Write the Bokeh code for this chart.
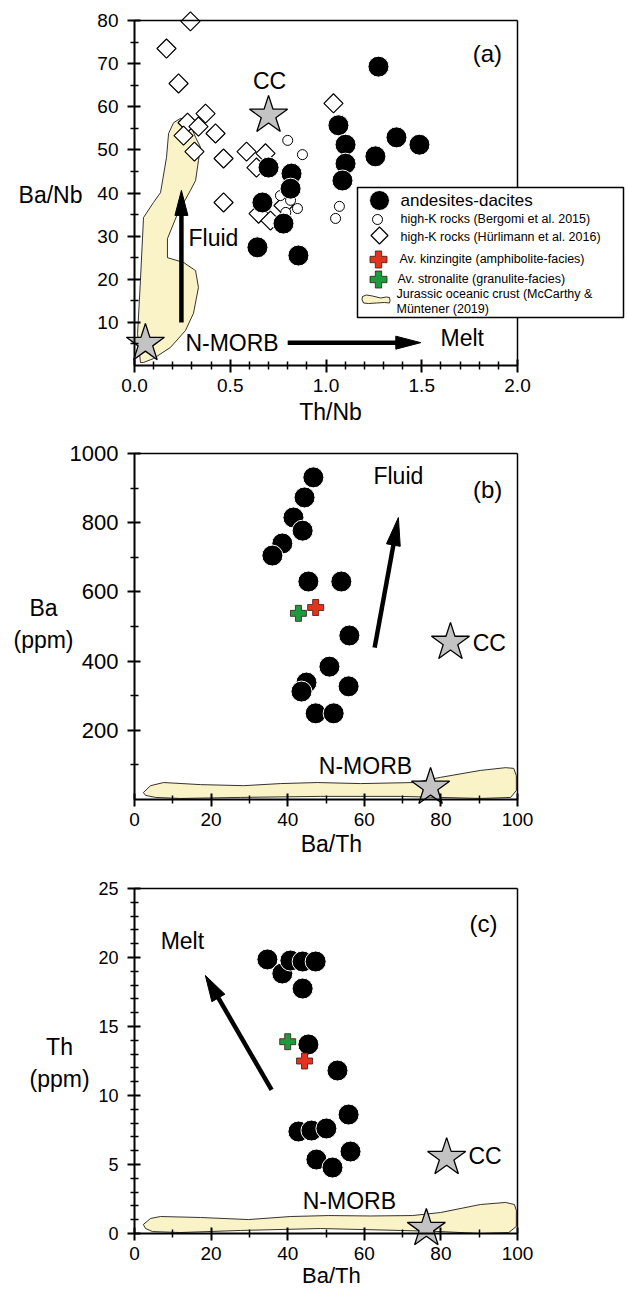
import math
from bokeh.plotting import figure
from bokeh.models import Range1d, FixedTicker, PrintfTickFormatter, Label
from bokeh.layouts import column
from bokeh.embed import file_html
from bokeh.resources import INLINE
from bokeh.core.properties import value

FONT = "Liberation Sans"

# ---------------- Panel (a): Ba/Nb vs Th/Nb ----------------
a_and_thnb = [0.70, 0.82, 0.815, 0.668, 0.778, 0.642, 0.856, 1.274, 1.065, 1.102, 1.102, 1.086, 1.258, 1.368, 1.488]
a_and_banb = [45.9, 44.5, 41.0, 37.8, 32.9, 27.4, 25.5, 69.3, 55.7, 51.2, 46.8, 42.9, 48.5, 52.9, 51.2]
a_berg_thnb = [0.80, 0.877, 0.762, 0.815, 0.851, 0.79, 1.07, 1.05]
a_berg_banb = [52.2, 48.9, 39.4, 38.3, 36.4, 35.5, 36.9, 34.1]
a_hurl_thnb = [0.292, 0.167, 0.230, 0.371, 0.277, 0.334, 0.256, 0.423, 0.313, 0.465, 0.585, 0.637, 0.684, 1.039, 0.465, 0.648, 0.710, 0.778]
a_hurl_banb = [79.8, 73.5, 65.4, 58.4, 56.3, 55.4, 53.3, 53.8, 49.6, 48.0, 49.6, 45.9, 49.2, 60.8, 37.8, 35.2, 33.6, 37.1]
a_star_x = [0.70, 0.057]
a_star_y = [58.0, 5.1]
a_blob_x = [0.031, 0.016, 0.031, 0.047, 0.099, 0.136, 0.167, 0.178, 0.204, 0.240, 0.282, 0.319, 0.345, 0.334,
            0.319, 0.292, 0.225, 0.172, 0.172, 0.256, 0.319, 0.334, 0.308, 0.266, 0.188, 0.099, 0.047]
a_blob_y = [0.7, 7.4, 19.7, 34.3, 37.8, 40.1, 48.2, 53.8, 56.3, 57.3, 56.8, 52.9, 50.6, 47.5,
            42.9, 40.6, 35.2, 29.4, 25.0, 23.9, 22.0, 18.1, 12.1, 8.1, 4.2, 1.6, 0.7]
a_xticks = [0.0, 0.5, 1.0, 1.5, 2.0]
a_yticks = [10, 20, 30, 40, 50, 60, 70, 80]

# ---------------- Panel (b): Ba vs Ba/Th ----------------
b_and_bath = [46.7, 44.4, 41.5, 43.9, 38.6, 36.0, 45.4, 54.0, 56.1, 50.9, 44.9, 43.6, 55.9, 47.3, 52.0]
b_and_ba = [931, 873, 815, 777, 740, 705, 630, 630, 474, 384, 338, 312, 327, 249, 249]
b_kinz = [47.3, 555]
b_stron = [42.8, 538]
b_star_x = [82.5, 77.3]
b_star_y = [454, 35]
b_blob_x = [2.3, 4.2, 7.6, 17.2, 28.5, 38.1, 47.8, 59.0, 73.1, 79.9, 90.3, 96.9, 99.0, 99.7, 99.7, 98.2,
            90.3, 69.5, 48.6, 27.7, 12.0, 5.5, 2.9]
b_blob_y = [20, 40, 49, 43, 40, 46, 49, 46, 49, 64, 84, 92, 90, 69, 26, 6, 3, 9, 9, 6, 3, 6, 12]
b_xticks = [0, 20, 40, 60, 80, 100]
b_yticks = [200, 400, 600, 800, 1000]

# ---------------- Panel (c): Th vs Ba/Th ----------------
c_and_bath = [34.7, 38.6, 40.7, 43.9, 47.3, 43.9, 45.4, 53.0, 55.9, 42.8, 46.2, 50.1, 56.4, 47.5, 51.7]
c_and_th = [19.86, 18.84, 19.78, 19.71, 19.71, 17.75, 13.70, 11.81, 8.62, 7.39, 7.46, 7.61, 5.94, 5.36, 4.78]
c_kinz = [44.4, 12.5]
c_stron = [40.0, 13.9]
c_star_x = [81.5, 76.2]
c_star_y = [5.5, 0.36]
c_blob_x = [2.3, 4.2, 6.8, 17.2, 29.8, 40.7, 50.7, 61.6, 72.6, 79.9, 90.3, 96.9, 99.2, 99.7, 99.7, 97.7,
            90.3, 79.9, 69.5, 48.6, 27.7, 12.0, 4.7, 2.9]
c_blob_y = [0.65, 1.09, 1.23, 1.16, 1.01, 1.23, 1.30, 1.27, 1.30, 1.52, 2.10, 2.25, 2.10, 1.67, 0.51, 0.07,
            0.0, 0.14, 0.22, 0.36, 0.22, 0.07, 0.14, 0.36]
c_xticks = [0, 20, 40, 60, 80, 100]
c_yticks = [0, 5, 10, 15, 20, 25]

# ---------------- styles ----------------
BLOB_FILL = "#fbf3c8"
STAR_FILL = "#c3c3c3"
RED = "#e5321f"
GREEN = "#1e9a3e"

WIDTH = 626      # canvas width
BOX_LEFT = 134   # pixel position of the left edge of each box inside the canvas


def make_panel(box, scale, height, box_top):
    """Frame covers the whole canvas; the data box is placed inside it."""
    x0, x1, y0, y1 = box
    sx, sy = scale
    box_h = (y1 - y0) * sy
    bottom_pad = height - box_top - box_h
    p = figure(width=WIDTH, height=height, output_backend="svg", toolbar_location=None,
               x_range=Range1d(x0 - BOX_LEFT / sx, x0 + (WIDTH - BOX_LEFT) / sx),
               y_range=Range1d(y0 - bottom_pad / sy, y1 + box_top / sy),
               min_border=0, min_border_left=0, min_border_right=0,
               min_border_top=0, min_border_bottom=0)
    p.grid.visible = False
    p.outline_line_color = None
    p.background_fill_color = "white"
    p.border_fill_color = "white"
    return p


def style_axes(p, box, xt, xm, yt, ym, xfs, yfs, xfmt=None):
    x0, x1, y0, y1 = box
    xa = p.xaxis[0]
    ya = p.yaxis[0]
    xa.fixed_location = y0
    ya.fixed_location = x0
    xa.bounds = (x0, x1)
    ya.bounds = (y0, y1)
    xa.ticker = FixedTicker(ticks=xt, minor_ticks=xm)
    ya.ticker = FixedTicker(ticks=yt, minor_ticks=ym)
    if xfmt:
        xa.formatter = PrintfTickFormatter(format=xfmt)
    for ax, fs in ((xa, xfs), (ya, yfs)):
        ax.axis_line_width = 2
        ax.axis_line_color = "black"
        ax.major_tick_line_width = 2
        ax.minor_tick_line_width = 1.5
        ax.major_tick_line_color = "black"
        ax.minor_tick_line_color = "black"
        ax.major_tick_in = 6
        ax.major_tick_out = 7
        ax.minor_tick_in = 4
        ax.minor_tick_out = 4
        ax.major_label_text_font = FONT
        ax.major_label_text_font_size = fs
        ax.major_label_text_color = "black"
    xa.major_label_standoff = 6
    ya.major_label_standoff = 9
    # top and right edges of the box
    p.segment(x0=[x0, x1], y0=[y1, y0], x1=[x1, x1], y1=[y1, y1], line_color="black", line_width=1.5)


def arrow(p, xs, ys, xe, ye, sx, sy, head_len, head_w, lw):
    dx = (xe - xs) * sx
    dy = (ye - ys) * sy
    L = math.hypot(dx, dy)
    ux, uy = dx / L, dy / L
    bx = xe - head_len * ux / sx
    by = ye - head_len * uy / sy
    p.line([xs, xe - 0.6 * head_len * ux / sx], [ys, ye - 0.6 * head_len * uy / sy],
           line_width=lw, line_color="black")
    nx, ny = -uy, ux
    p.patch([xe, bx + head_w / 2 * nx / sx, bx - head_w / 2 * nx / sx],
            [ye, by + head_w / 2 * ny / sy, by - head_w / 2 * ny / sy],
            fill_color="black", line_color="black", line_width=1)


def text(p, xs, ys, txt, size="23px", align="left"):
    p.text(x=xs, y=ys, text=txt, text_font=value(FONT), text_font_size=value(size),
           text_align=align, text_baseline="middle", text_color="black")


def label(p, x, y, txt, size="23px"):
    p.add_layout(Label(x=x, y=y, text=txt, text_font=FONT, text_font_size=size,
                       text_align="center", text_baseline="middle", text_color="black"))


def andesites(p, xs, ys, size=21):
    p.scatter(xs, ys, marker="circle", size=size, fill_color="black", line_color="white", line_width=1)


def stars(p, xs, ys):
    p.scatter(xs, ys, marker="star", size=40, fill_color=STAR_FILL, line_color="black", line_width=1.3)


def pluses(p, xs, ys, color, size=16):
    p.scatter(xs, ys, marker="plus", size=size, fill_color=color, line_color="#3a1a14", line_width=0.8)


# ====================== Panel (a) ======================
boxA = (0.0, 2.0, 0.0, 80.0)
sA = (191.5, 4.3125)
pa = make_panel(boxA, sA, 436, 20)
pa.patch(a_blob_x, a_blob_y, fill_color=BLOB_FILL, line_color="black", line_width=0.8)
arrow(pa, 0.245, 10.0, 0.245, 40.6, sA[0], sA[1], 25, 13, 4.5)
arrow(pa, 0.80, 5.3, 1.495, 5.3, sA[0], sA[1], 25, 13, 4.5)
pa.scatter(a_hurl_thnb, a_hurl_banb, marker="square", angle=math.pi / 4, size=13.5,
           fill_color="white", line_color="black", line_width=1.2)
pa.scatter(a_berg_thnb, a_berg_banb, marker="circle", size=10, fill_color="white",
           line_color="black", line_width=1)
andesites(pa, a_and_thnb, a_and_banb)
stars(pa, a_star_x, a_star_y)
style_axes(pa, boxA, a_xticks, [0.1, 0.2, 0.3, 0.4, 0.6, 0.7, 0.8, 0.9, 1.1, 1.2, 1.3, 1.4, 1.6, 1.7, 1.8, 1.9],
           a_yticks, [5, 15, 25, 35, 45, 55, 65, 75], "19px", "19px", "%.1f")
text(pa, [0.705], [65.86], ["CC"], align="center")
text(pa, [0.282], [29.68], ["Fluid"])
text(pa, [0.266], [5.33], ["N-MORB"])
text(pa, [1.598], [6.49], ["Melt"])
text(pa, [1.843], [72.46], ["(a)"], size="24px", align="center")
label(pa, -0.4386, 39.65, "Ba/Nb")
label(pa, 1.0235, -10.67, "Th/Nb")


# legend (positions given in pixels relative to the panel box, converted to data units)
def lx(px):
    return (px - 134) / sA[0]


def ly(py):
    return (365 - py) / sA[1]


pa.quad(left=[lx(357)], right=[lx(623)], top=[ly(187)], bottom=[ly(317)],
        fill_color="white", line_color="black", line_width=1.5)
andesites(pa, [lx(379)], [ly(200)], size=20)
pa.scatter([lx(377)], [ly(219)], marker="circle", size=10, fill_color="white", line_color="black", line_width=1)
pa.scatter([lx(379)], [ly(235)], marker="square", angle=math.pi / 4, size=12,
           fill_color="white", line_color="black", line_width=1.2)
pluses(pa, [lx(378)], [ly(259)], RED, size=17)
pluses(pa, [lx(378)], [ly(279)], GREEN, size=17)
leg_blob_px = [362, 366, 372, 380, 386, 389, 389.5, 389, 384, 376, 368, 363, 361.5]
leg_blob_py = [296, 294.5, 295.5, 297.5, 296.5, 297, 300, 302.5, 302, 302.5, 303, 302.5, 299]
pa.patch([lx(v) for v in leg_blob_px], [ly(v) for v in leg_blob_py],
         fill_color=BLOB_FILL, line_color="black", line_width=0.8)
text(pa, [lx(400)], [ly(200)], ["andesites-dacites"], size="17px")
text(pa, [lx(400), lx(400), lx(399), lx(397), lx(396), lx(396)],
     [ly(218), ly(236), ly(258), ly(278), ly(293), ly(308)],
     ["high-K rocks (Bergomi et al. 2015)", "high-K rocks (Hürlimann et al. 2016)",
      "Av. kinzingite (amphibolite-facies)", "Av. stronalite (granulite-facies)",
      "Jurassic oceanic crust (McCarthy &", "Müntener (2019)"], size="12.5px")

# ====================== Panel (b) ======================
boxB = (0.0, 100.0, 0.0, 1000.0)
sB = (3.83, 0.346)
pb = make_panel(boxB, sB, 435, 17)
pb.patch(b_blob_x, b_blob_y, fill_color=BLOB_FILL, line_color="black", line_width=0.8)
arrow(pb, 62.7, 439, 68.9, 815, sB[0], sB[1], 28, 14, 4.5)
andesites(pb, b_and_bath, b_and_ba)
pluses(pb, [b_stron[0]], [b_stron[1]], GREEN)
pluses(pb, [b_kinz[0]], [b_kinz[1]], RED)
stars(pb, b_star_x, b_star_y)
style_axes(pb, boxB, b_xticks, [10, 30, 50, 70, 90], b_yticks, [100, 300, 500, 700, 900], "19px", "22px")
text(pb, [68.9], [936], ["Fluid"], align="center")
text(pb, [92.2], [896], ["(b)"], size="24px", align="center")
text(pb, [88.3], [451], ["CC"])
text(pb, [60.3], [95.4], ["N-MORB"], align="center")
label(pb, -23.76, 554.9, "Ba")
label(pb, -23.76, 462.4, "(ppm)")
label(pb, 51.4, -130, "Ba/Th")

# ====================== Panel (c) ======================
boxC = (0.0, 100.0, 0.0, 25.0)
sC = (3.83, 13.8)
pc = make_panel(boxC, sC, 419, 17)
pc.patch(c_blob_x, c_blob_y, fill_color=BLOB_FILL, line_color="black", line_width=0.8)
arrow(pc, 35.8, 10.4, 18.5, 18.7, sC[0], sC[1], 26, 15, 4.5)
andesites(pc, c_and_bath, c_and_th)
pluses(pc, [c_stron[0]], [c_stron[1]], GREEN)
pluses(pc, [c_kinz[0]], [c_kinz[1]], RED)
stars(pc, c_star_x, c_star_y)
style_axes(pc, boxC, c_xticks, [10, 30, 50, 70, 90], c_yticks,
           [1, 2, 3, 4, 6, 7, 8, 9, 11, 12, 13, 14, 16, 17, 18, 19, 21, 22, 23, 24], "19px", "18px")
text(pc, [12.5], [21.23], ["Melt"], align="center")
text(pc, [91.1], [22.43], ["(c)"], size="24px", align="center")
text(pc, [87.2], [5.58], ["CC"])
text(pc, [56.1], [2.39], ["N-MORB"], align="center")
label(pc, -19.58, 13.55, "Th")
label(pc, -19.58, 11.23, "(ppm)")
label(pc, 51.4, -3.05, "Ba/Th", size="22px")

layout = column(pa, pb, pc)
open("out.html", "w").write(file_html(layout, INLINE))
